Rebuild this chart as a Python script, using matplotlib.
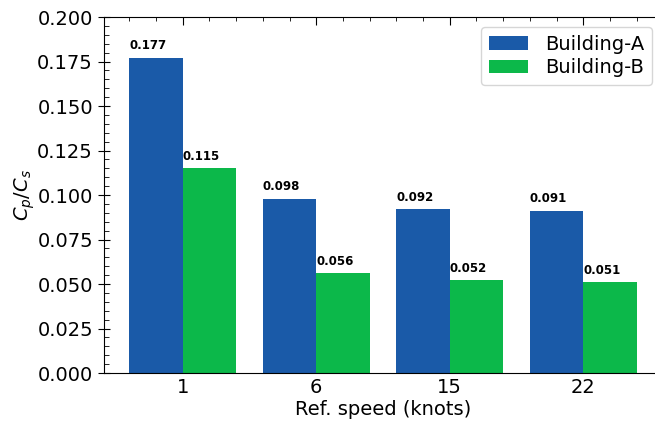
import matplotlib
matplotlib.use("Agg")
import matplotlib.pyplot as plt
import numpy as np
from matplotlib.ticker import AutoMinorLocator, MultipleLocator

# data
speeds = ["1", "6", "15", "22"]
building_a = [0.177, 0.098, 0.092, 0.091]
building_b = [0.115, 0.056, 0.052, 0.051]

fig = plt.figure(figsize=(6.55, 4.21), dpi=100)
ax = fig.add_axes([0.1588, 0.114, 0.852, 0.8456])

x = np.arange(len(speeds))
width = 0.4
bars_a = ax.bar(x - width / 2, building_a, width, color="#1a5aa8", label="Building-A")
bars_b = ax.bar(x + width / 2, building_b, width, color="#0cb84a", label="Building-B")

# value labels, left-aligned at the bar edge
for bars in (bars_a, bars_b):
    for bar in bars:
        h = bar.get_height()
        ax.annotate(f"{h:.3f}", (bar.get_x(), h), xytext=(0, 4),
                    textcoords="offset points", ha="left", va="bottom",
                    fontsize=8.5, fontweight="bold")

ax.set_xticks(x)
ax.set_xticklabels(speeds)
ax.set_ylim(0, 0.2)
ax.yaxis.set_major_locator(MultipleLocator(0.025))
ax.yaxis.set_minor_locator(AutoMinorLocator(5))
ax.xaxis.set_minor_locator(AutoMinorLocator(5))

ax.tick_params(axis="both", labelsize=14)
ax.tick_params(axis="x", which="both", bottom=False, top=True, direction="in")
ax.tick_params(axis="x", which="major", length=6)
ax.tick_params(axis="x", which="minor", length=3)
ax.tick_params(axis="y", which="both", left=True, right=True)
ax.tick_params(axis="y", which="major", direction="inout", length=9)
ax.tick_params(axis="y", which="minor", direction="in", length=3.5)

ax.set_xlabel("Ref. speed (knots)", fontsize=14, labelpad=2)
ax.set_ylabel("$C_p/C_s$", fontsize=14, labelpad=0)

ax.legend(loc="upper right", fontsize=14, handlelength=2.0, handletextpad=0.9,
          labelspacing=0.25, framealpha=0.8)

fig.savefig("out.png", dpi=100)
